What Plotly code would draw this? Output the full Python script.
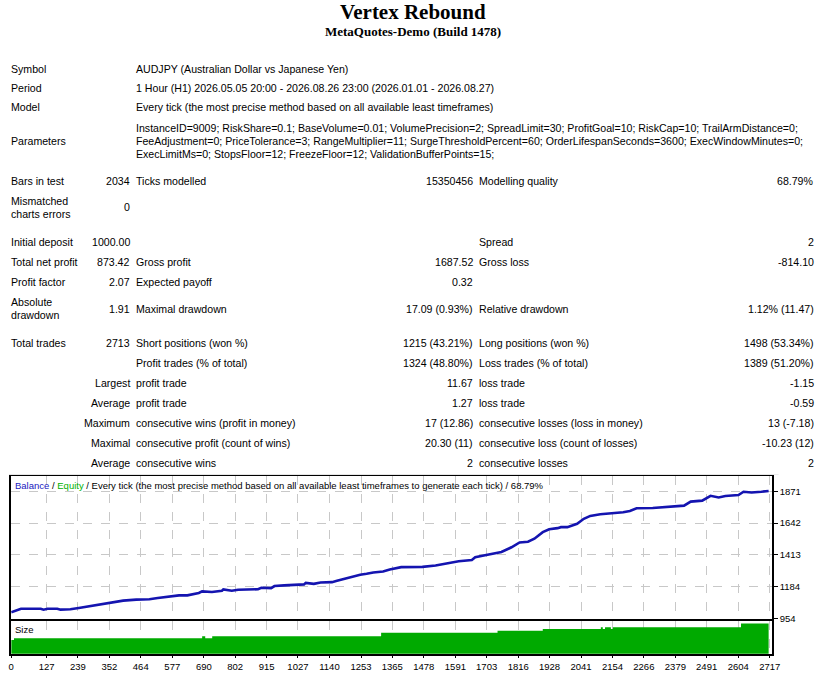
import plotly.graph_objects as go

W, H = 831, 677
FONT = "Liberation Sans"

# report header
report_title = "Vertex Rebound"
report_subtitle = "MetaQuotes-Demo (Build 1478)"

info_labels = ["Symbol", "Period", "Model"]
info_values = [
    "AUDJPY (Australian Dollar vs Japanese Yen)",
    "1 Hour (H1) 2026.05.05 20:00 - 2026.08.26 23:00 (2026.01.01 - 2026.08.27)",
    "Every tick (the most precise method based on all available least timeframes)",
]
param_lines = [
    "InstanceID=9009; RiskShare=0.1; BaseVolume=0.01; VolumePrecision=2; SpreadLimit=30; ProfitGoal=10; RiskCap=10; TrailArmDistance=0;",
    "FeeAdjustment=0; PriceTolerance=3; RangeMultiplier=11; SurgeThresholdPercent=60; OrderLifespanSeconds=3600; ExecWindowMinutes=0;",
    "ExecLimitMs=0; StopsFloor=12; FreezeFloor=12; ValidationBufferPoints=15;",
]

# summary table: label / value pairs for the three columns
col1_labels = ["Bars in test", "Mismatched\ncharts errors", "Initial deposit", "Total net profit",
               "Profit factor", "Absolute\ndrawdown", "Total trades", "", "", "", "", "", ""]
col1_values = ["2034", "0", "1000.00", "873.42", "2.07", "1.91", "2713", "",
               "Largest", "Average", "Maximum", "Maximal", "Average"]
col2_labels = ["Ticks modelled", "", "", "Gross profit", "Expected payoff", "Maximal drawdown",
               "Short positions (won %)", "Profit trades (% of total)", "profit trade", "profit trade",
               "consecutive wins (profit in money)", "consecutive profit (count of wins)", "consecutive wins"]
col2_values = ["15350456", "", "", "1687.52", "0.32", "17.09 (0.93%)", "1215 (43.21%)",
               "1324 (48.80%)", "11.67", "1.27", "17 (12.86)", "20.30 (11)", "2"]
col3_labels = ["Modelling quality", "", "Spread", "Gross loss", "", "Relative drawdown",
               "Long positions (won %)", "Loss trades (% of total)", "loss trade", "loss trade",
               "consecutive losses (loss in money)", "consecutive loss (count of losses)", "consecutive losses"]
col3_values = ["68.79%", "", "2", "-814.10", "", "1.12% (11.47)", "1498 (53.34%)",
               "1389 (51.20%)", "-1.15", "-0.59", "13 (-7.18)", "-10.23 (12)", "2"]

# balance curve (trade number, balance)
trade_no = [0, 35, 106, 116, 130, 165, 177, 212, 242, 271, 307, 342, 366, 401, 448, 495, 525,
            566, 601, 631, 672, 684, 719, 755, 760, 790, 813, 884, 896, 931, 943, 978, 1013,
            1049, 1055, 1084, 1108, 1149, 1167, 1202, 1214, 1250, 1273, 1297, 1332, 1356, 1397,
            1473, 1520, 1568, 1603, 1650, 1662, 1697, 1733, 1756, 1792, 1821, 1851, 1874, 1904,
            1927, 1957, 1969, 1992, 2027, 2051, 2074, 2110, 2151, 2192, 2216, 2240, 2298, 2357,
            2393, 2410, 2434, 2475, 2505, 2534, 2558, 2605, 2623, 2652, 2687, 2713]
balance = [1000, 1026, 1026, 1019, 1026, 1026, 1019, 1022, 1031, 1041, 1055, 1067, 1077, 1084,
           1091, 1094, 1103, 1115, 1122, 1122, 1139, 1151, 1146, 1155, 1165, 1155, 1162, 1166,
           1177, 1174, 1189, 1194, 1198, 1201, 1212, 1205, 1215, 1217, 1227, 1244, 1255, 1270,
           1277, 1287, 1294, 1308, 1325, 1327, 1337, 1355, 1368, 1377, 1396, 1411, 1425, 1434,
           1468, 1503, 1508, 1530, 1577, 1598, 1606, 1613, 1613, 1637, 1673, 1694, 1706, 1711,
           1720, 1730, 1749, 1751, 1759, 1766, 1768, 1797, 1804, 1839, 1827, 1837, 1844, 1868,
           1863, 1868, 1873.42]

# position size steps (first trade of step, lots)
size_start = [0, 10, 684, 695, 720, 1325, 1742, 1904, 2112, 2119, 2127, 2148, 2155, 2614]
size_lots = [0.09, 0.10, 0.11, 0.10, 0.11, 0.13, 0.14, 0.15, 0.16, 0.15, 0.16, 0.15, 0.16, 0.18]
total_trades = 2713

x_ticks = [0, 127, 239, 352, 464, 577, 690, 802, 915, 1027, 1140, 1253, 1365, 1478, 1591,
           1703, 1816, 1928, 2041, 2154, 2266, 2379, 2491, 2604, 2717]
y_ticks = [954, 1184, 1413, 1642, 1871]

chart_caption = ("<span style='color:#2020c0'>Balance</span> / "
                 "<span style='color:#00b000'>Equity</span> / Every tick (the most precise method "
                 "based on all available least timeframes to generate each tick) / 68.79%")


def px(x):
    return x / W


def py(y):
    return 1 - y / H


annotations = []


def text(x, y, s, anchor="left", size=10.6, color="black", family=FONT):
    annotations.append(dict(
        x=px(x), y=py(y), xref="paper", yref="paper", text=s, showarrow=False,
        xanchor=anchor, yanchor="middle", align=anchor, borderpad=0, borderwidth=0,
        font=dict(family=family, size=size, color=color),
    ))


def cell(x, y, s, anchor):
    lines = s.split("\n")
    for i, line in enumerate(lines):
        text(x, y + (i - (len(lines) - 1) / 2) * 13, line, anchor)


text(415.5, 12, "<b>%s</b>" % report_title, "center", 21, family="Liberation Serif")
text(415.5, 32, "<b>%s</b>" % report_subtitle, "center", 13, family="Liberation Serif")

for lab, val, y in zip(info_labels, info_values, [70, 89, 108]):
    text(8, y, lab)
    text(135, y, val)
text(8, 142, "Parameters")
for line, y in zip(param_lines, [129, 142, 155]):
    text(135, y, line)

row_y = [182, 209, 244, 264, 284, 311, 346, 366, 386, 406, 426, 446, 466]
for i, y in enumerate(row_y):
    cell(8, y, col1_labels[i], "left")
    cell(129, y, col1_values[i], "right")
    cell(135, y, col2_labels[i], "left")
    cell(476, y, col2_values[i], "right")
    cell(482, y, col3_labels[i], "left")
    cell(822, y, col3_values[i], "right")

text(12, 489, chart_caption, size=9.5)
text(12, 634, "Size", size=9.5)

fig = go.Figure()
fig.add_trace(go.Scatter(
    x=trade_no, y=balance, mode="lines", line=dict(color="#1414b0", width=2.6),
    xaxis="x", yaxis="y", hoverinfo="skip",
))
fig.add_trace(go.Scatter(
    x=size_start + [total_trades], y=size_lots + [size_lots[-1]], mode="lines",
    line=dict(width=0, shape="hv"), fill="tozeroy", fillcolor="#00aa00",
    xaxis="x2", yaxis="y2", hoverinfo="skip",
))

x_dom = [px(8.3), px(779.3)]
grid = dict(showgrid=True, gridcolor="#c8c8c8", griddash="dash", gridwidth=1)
frame = dict(showline=True, mirror=True, linecolor="black", linewidth=1.5, zeroline=False)

fig.update_layout(
    width=W, height=H, margin=dict(l=0, r=0, t=0, b=0),
    paper_bgcolor="white", plot_bgcolor="white", showlegend=False,
    annotations=annotations,
    xaxis=dict(domain=x_dom, range=[0, 2725], anchor="y", tickvals=x_ticks,
               showticklabels=False, ticks="", **grid, **frame),
    yaxis=dict(domain=[py(623.3), py(480)], range=[954, 1978], anchor="x", side="right",
               tickvals=y_ticks, ticks="outside", ticklen=4, tickcolor="black",
               tickfont=dict(family=FONT, size=9.5, color="black"), **grid, **frame),
    xaxis2=dict(domain=x_dom, range=[0, 2725], anchor="y2", tickvals=x_ticks,
                ticks="outside", ticklen=3, tickcolor="black",
                tickfont=dict(family=FONT, size=9.5, color="black"), **grid, **frame),
    yaxis2=dict(domain=[py(658.5), py(625.7)], range=[0.016, 0.193], anchor="x2",
                showticklabels=False, showgrid=False, ticks="", **frame),
    shapes=[dict(type="line", xref="paper", yref="paper", x0=px(6), x1=px(786),
                 y0=py(478), y1=py(478), line=dict(color="#ececec", width=1))],
)

# the page body has a default margin; drop it so the figure fills the window
fig.write_html("out.html", post_script="document.body.style.margin='0';",
               config={"displayModeBar": False})
